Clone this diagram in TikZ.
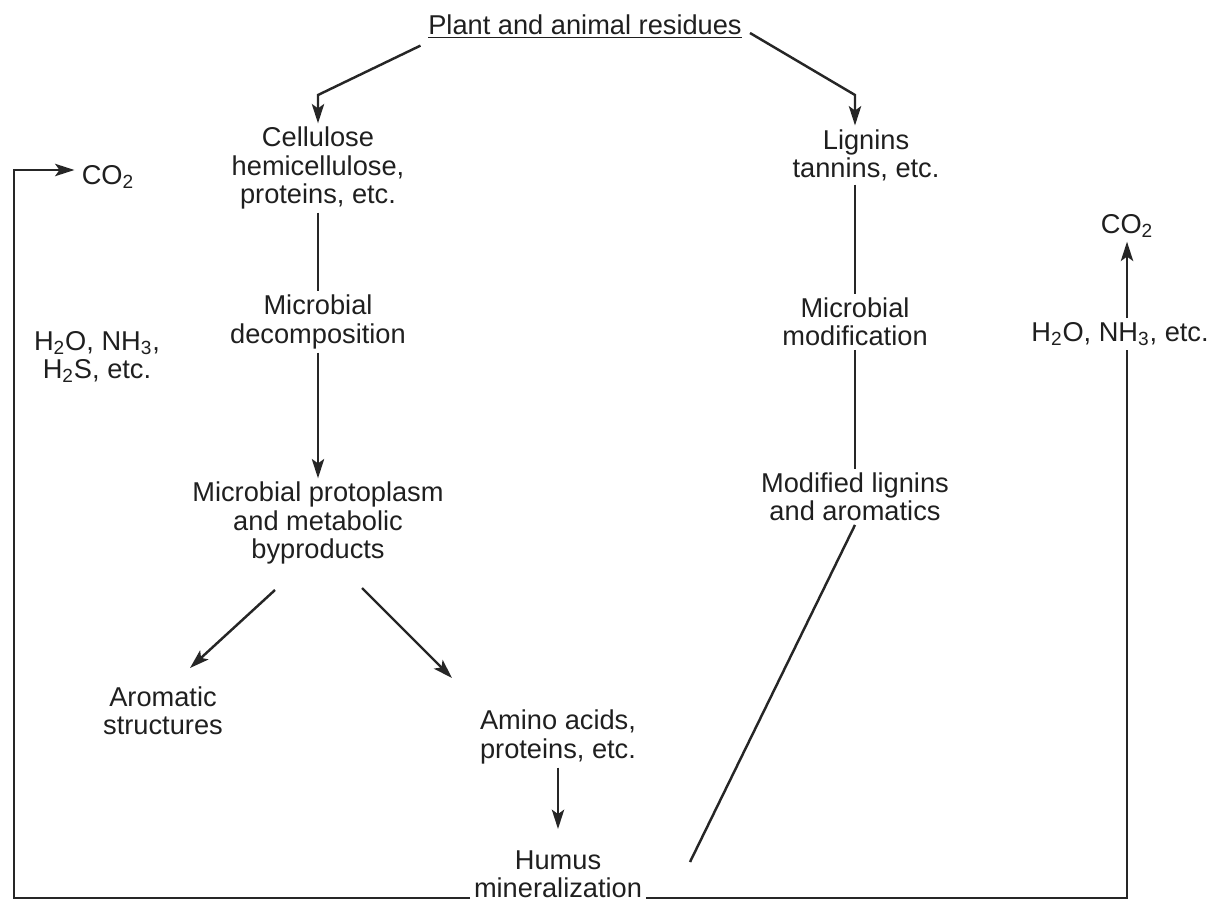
\documentclass[tikz,border=0pt]{standalone}
\usepackage{fontspec}
\setmainfont{Liberation Sans}
\usetikzlibrary{arrows.meta}
\begin{document}
\begin{tikzpicture}[x=0.02cm,y=-0.02cm,
  lbl/.style={align=center,inner sep=2pt,font=\fontsize{15.5}{16}\selectfont,text=black!88},
  ln/.style={line width=1.4pt,draw=black!85},
  arr/.style={ln,-{Stealth[length=11pt,width=7pt,inset=2.5pt]}}]
\useasboundingbox (0,0) rectangle (1213,905);
% nodes
\node[lbl] (title) at (585,27) {\underline{Plant and animal residues}};
\node[lbl] (cell) at (318,168) {Cellulose\\hemicellulose,\\proteins, etc.};
\node[lbl] (md) at (318,322) {Microbial\\decomposition};
\node[lbl] (mp) at (318,523) {Microbial protoplasm\\and metabolic\\byproducts};
\node[lbl] (arom) at (163,711) {Aromatic\\structures};
\node[lbl] (amino) at (558,737) {Amino acids,\\proteins, etc.};
\node[lbl] (humus) at (558,874) {Humus\\mineralization};
\node[lbl] (lig) at (866,155) {Lignins\\tannins, etc.};
\node[lbl] (mm) at (855,322) {Microbial\\modification};
\node[lbl] (ml) at (855,497) {Modified lignins\\and aromatics};
\node[lbl] (co2L) at (108,177) {CO\textsubscript{2}};
\node[lbl] (h2oL) at (97,357) {H\textsubscript{2}O, NH\textsubscript{3},\\H\textsubscript{2}S, etc.};
\node[lbl] (co2R) at (1127,226) {CO\textsubscript{2}};
\node[lbl] (h2oR) at (1120,334) {H\textsubscript{2}O, NH\textsubscript{3}, etc.};
% coordinates
\coordinate (lc) at (318,95);
\coordinate (rt) at (750,33);
\coordinate (rc) at (855,95);
\coordinate (a1) at (275,590);
\coordinate (a2) at (190,668);
\coordinate (b1) at (362,588);
\coordinate (b2) at (452,678);
\coordinate (mlend) at (690,862);
\coordinate (BL) at (14,898);
\coordinate (TL) at (14,170);
\coordinate (BR) at (1127,898);
% connectors
\draw[arr] (title.south west) ++(-4,3) -- (lc) -- (cell.north -| lc);
\draw[arr] (rt) -- (rc) -- (rc |- lig.north);
\draw[ln] (cell.south) -- (md.north);
\draw[arr] (md.south) -- (mp.north);
\draw[arr] (a1) -- (a2);
\draw[arr] (b1) -- (b2);
\draw[arr,shorten >=10pt] (amino.south) -- (humus.north);
\draw[ln] (mm.north |- lig.south) -- (mm.north);
\draw[ln] (mm.south) -- (ml.north);
\draw[ln] (ml.south) -- (mlend);
\draw[arr] (humus.west |- BL) -- (BL) -- (TL) -- ([xshift=-2pt]co2L.west |- TL);
\draw[ln] (humus.east |- BR) -- (BR) -- (BR |- h2oR.south);
\draw[arr] (BR |- h2oR.north) -- (BR |- co2R.south);
\end{tikzpicture}
\end{document}
